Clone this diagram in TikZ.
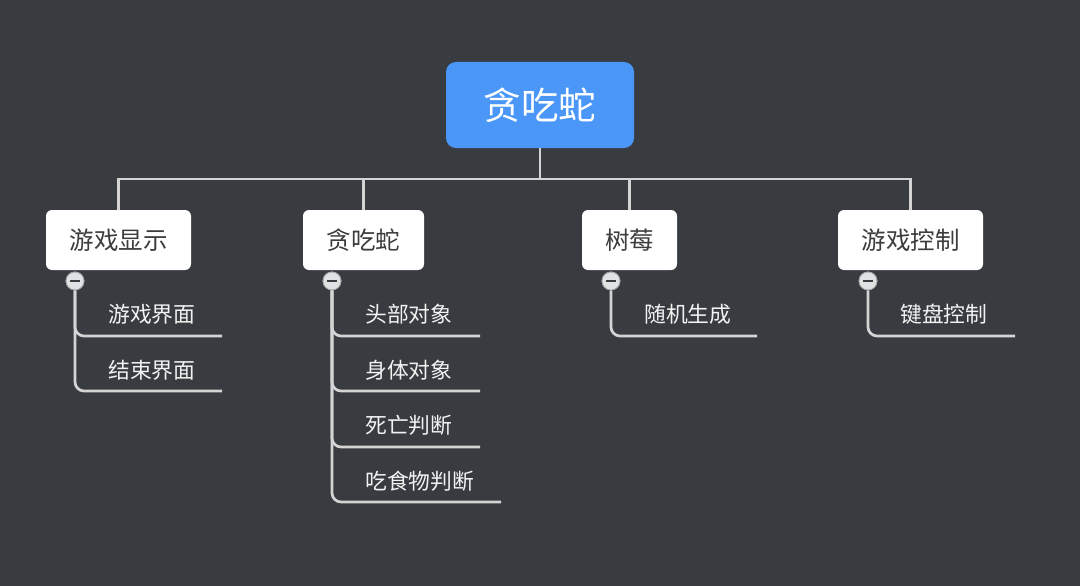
\documentclass[tikz,border=0pt]{standalone}
\usepackage{fontspec}
\setmainfont{Noto Sans CJK SC}
\definecolor{bg}{RGB}{56,59,64}
\definecolor{rootblue}{RGB}{74,151,248}
\definecolor{linegray}{RGB}{212,212,212}
\definecolor{childtext}{RGB}{60,60,60}
\definecolor{leaftext}{RGB}{242,242,242}
\definecolor{minusfill}{RGB}{225,226,228}
\definecolor{minusdraw}{RGB}{160,162,166}
\tikzset{
  rootbox/.style={fill=rootblue, rounded corners=10pt, minimum width=188pt, minimum height=86pt, inner sep=0pt, text=white, font=\fontsize{37.5}{42}\selectfont},
  childbox/.style={fill=white, rounded corners=6pt, minimum height=60pt, inner sep=0pt, text=childtext, font=\fontsize{24.5}{28}\selectfont},
  leaf/.style={anchor=west, inner sep=0pt, text=leaftext, font=\fontsize{21.8}{25}\selectfont},
  conn/.style={draw=linegray, line width=2.7pt},
  minusbtn/.style={circle, fill=minusfill, draw=minusdraw, line width=0.8pt, minimum size=18pt, inner sep=0pt},
}
\begin{document}
\begin{tikzpicture}[x=1pt,y=-1pt]
\fill[bg] (0,0) rectangle (1080,586);
\useasboundingbox (0,0) rectangle (1080,586);

\node[rootbox] (root) at (540,105) {贪吃蛇};
\node[childbox, minimum width=145pt] (c1) at (118.5,240) {游戏显示};
\node[childbox, minimum width=121pt] (c2) at (363.5,240) {贪吃蛇};
\node[childbox, minimum width=95pt] (c3) at (629.5,240) {树莓};
\node[childbox, minimum width=145pt] (c4) at (910.5,240) {游戏控制};

\coordinate (j) at (540,179);
\draw[conn] (root.south) -- (j);
\draw[conn] (j) -| (c1.north);
\draw[conn] (j) -| (c2.north);
\draw[conn] (j) -| (c3.north);
\draw[conn] (j) -| (c4.north);

% minus buttons
\node[minusbtn] (m1) at (75,281) {};
\node[minusbtn] (m2) at (332,281) {};
\node[minusbtn] (m3) at (611,281) {};
\node[minusbtn] (m4) at (868,281) {};

% leaf end coordinates
\coordinate (e11) at (222,336);
\coordinate (e12) at (222,391);
\coordinate (e21) at (480,336);
\coordinate (e22) at (480,391);
\coordinate (e23) at (480,447);
\coordinate (e24) at (501,502);
\coordinate (e31) at (757,336);
\coordinate (e41) at (1015,336);

\foreach \m/\e in {m1/e11, m1/e12, m2/e21, m2/e22, m2/e23, m2/e24, m3/e31, m4/e41}
  \draw[conn, rounded corners=9pt] (\m.south) |- (\e);

% redraw buttons on top
\foreach \m in {m1,m2,m3,m4}{
  \node[minusbtn] at (\m) {};
  \draw[draw=childtext, line width=1.8pt] ([xshift=-5pt]\m.center) -- ([xshift=5pt]\m.center);
}

% leaf labels
\node[leaf] (l11) at (108,314) {游戏界面};
\node[leaf] (l12) at (108,370) {结束界面};
\node[leaf] (l21) at (365,314) {头部对象};
\node[leaf] (l22) at (365,370) {身体对象};
\node[leaf] (l23) at (365,425) {死亡判断};
\node[leaf] (l24) at (365,481) {吃食物判断};
\node[leaf] (l31) at (644,314) {随机生成};
\node[leaf] (l41) at (900,314) {键盘控制};
\end{tikzpicture}
\end{document}
